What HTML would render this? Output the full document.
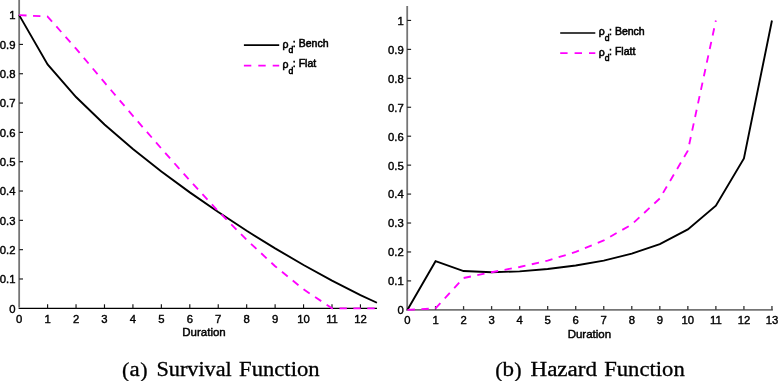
<!DOCTYPE html>
<html><head><meta charset="utf-8"><title>Survival and Hazard Functions</title>
<style>
html,body{margin:0;padding:0;background:#fff;}
body{width:778px;height:381px;overflow:hidden;}
svg{display:block}
.t{font-family:"Liberation Sans",Arial,Helvetica,sans-serif;font-size:11.3px;fill:#000;stroke:#000;stroke-width:0.4px;}
.al{font-family:"Liberation Sans",Arial,Helvetica,sans-serif;font-size:11.5px;fill:#000;stroke:#000;stroke-width:0.45px;}
.lg{font-family:"Liberation Sans",Arial,Helvetica,sans-serif;font-size:10.5px;fill:#000;stroke:#000;stroke-width:0.55px;}
.cap{font-family:"Liberation Serif","DejaVu Serif",serif;font-size:20px;fill:#000;stroke:#000;stroke-width:0.3px;}
</style></head><body>
<svg width="778" height="381" viewBox="0 0 778 381">
<rect width="778" height="381" fill="#fff"/>

<line x1="19.16" y1="0" x2="19.16" y2="307.6" stroke="#757575" stroke-width="1.8"/>
<line x1="18.6" y1="308.4" x2="377" y2="308.4" stroke="#000" stroke-width="1.2"/>
<text class="t" x="19.16" y="322.6" text-anchor="middle">0</text>
<line x1="47.60" y1="308.4" x2="47.60" y2="304.3" stroke="#111" stroke-width="1.15"/>
<text class="t" x="47.60" y="322.6" text-anchor="middle">1</text>
<line x1="76.04" y1="308.4" x2="76.04" y2="304.3" stroke="#111" stroke-width="1.15"/>
<text class="t" x="76.04" y="322.6" text-anchor="middle">2</text>
<line x1="104.48" y1="308.4" x2="104.48" y2="304.3" stroke="#111" stroke-width="1.15"/>
<text class="t" x="104.48" y="322.6" text-anchor="middle">3</text>
<line x1="132.92" y1="308.4" x2="132.92" y2="304.3" stroke="#111" stroke-width="1.15"/>
<text class="t" x="132.92" y="322.6" text-anchor="middle">4</text>
<line x1="161.36" y1="308.4" x2="161.36" y2="304.3" stroke="#111" stroke-width="1.15"/>
<text class="t" x="161.36" y="322.6" text-anchor="middle">5</text>
<line x1="189.80" y1="308.4" x2="189.80" y2="304.3" stroke="#111" stroke-width="1.15"/>
<text class="t" x="189.80" y="322.6" text-anchor="middle">6</text>
<line x1="218.24" y1="308.4" x2="218.24" y2="304.3" stroke="#111" stroke-width="1.15"/>
<text class="t" x="218.24" y="322.6" text-anchor="middle">7</text>
<line x1="246.68" y1="308.4" x2="246.68" y2="304.3" stroke="#111" stroke-width="1.15"/>
<text class="t" x="246.68" y="322.6" text-anchor="middle">8</text>
<line x1="275.12" y1="308.4" x2="275.12" y2="304.3" stroke="#111" stroke-width="1.15"/>
<text class="t" x="275.12" y="322.6" text-anchor="middle">9</text>
<line x1="303.56" y1="308.4" x2="303.56" y2="304.3" stroke="#111" stroke-width="1.15"/>
<text class="t" x="303.56" y="322.6" text-anchor="middle">10</text>
<line x1="332.00" y1="308.4" x2="332.00" y2="304.3" stroke="#111" stroke-width="1.15"/>
<text class="t" x="332.00" y="322.6" text-anchor="middle">11</text>
<line x1="360.44" y1="308.4" x2="360.44" y2="304.3" stroke="#111" stroke-width="1.15"/>
<text class="t" x="360.44" y="322.6" text-anchor="middle">12</text>
<text class="t" x="15.5" y="312.60" text-anchor="end">0</text>
<line x1="19.2" y1="278.98" x2="23" y2="278.98" stroke="#1a1a1a" stroke-width="1.15"/>
<text class="t" x="15.5" y="283.28" text-anchor="end">0.1</text>
<line x1="19.2" y1="249.66" x2="23" y2="249.66" stroke="#1a1a1a" stroke-width="1.15"/>
<text class="t" x="15.5" y="253.96" text-anchor="end">0.2</text>
<line x1="19.2" y1="220.34" x2="23" y2="220.34" stroke="#1a1a1a" stroke-width="1.15"/>
<text class="t" x="15.5" y="224.64" text-anchor="end">0.3</text>
<line x1="19.2" y1="191.02" x2="23" y2="191.02" stroke="#1a1a1a" stroke-width="1.15"/>
<text class="t" x="15.5" y="195.32" text-anchor="end">0.4</text>
<line x1="19.2" y1="161.70" x2="23" y2="161.70" stroke="#1a1a1a" stroke-width="1.15"/>
<text class="t" x="15.5" y="166.00" text-anchor="end">0.5</text>
<line x1="19.2" y1="132.38" x2="23" y2="132.38" stroke="#1a1a1a" stroke-width="1.15"/>
<text class="t" x="15.5" y="136.68" text-anchor="end">0.6</text>
<line x1="19.2" y1="103.06" x2="23" y2="103.06" stroke="#1a1a1a" stroke-width="1.15"/>
<text class="t" x="15.5" y="107.36" text-anchor="end">0.7</text>
<line x1="19.2" y1="73.74" x2="23" y2="73.74" stroke="#1a1a1a" stroke-width="1.15"/>
<text class="t" x="15.5" y="78.04" text-anchor="end">0.8</text>
<line x1="19.2" y1="44.42" x2="23" y2="44.42" stroke="#1a1a1a" stroke-width="1.15"/>
<text class="t" x="15.5" y="48.72" text-anchor="end">0.9</text>
<text class="t" x="15.5" y="19.40" text-anchor="end">1</text>
<text class="al" x="204" y="336.2" text-anchor="middle">Duration</text>
<line x1="407.2" y1="6.1" x2="407.2" y2="310.6" stroke="#757575" stroke-width="1.8"/>
<line x1="406.3" y1="309.8" x2="772.9" y2="309.8" stroke="#757575" stroke-width="1.8"/>
<text class="t" x="407.50" y="324.1" text-anchor="middle">0</text>
<line x1="435.54" y1="309.8" x2="435.54" y2="306.1" stroke="#333" stroke-width="1.3"/>
<text class="t" x="435.54" y="324.1" text-anchor="middle">1</text>
<line x1="463.57" y1="309.8" x2="463.57" y2="306.1" stroke="#333" stroke-width="1.3"/>
<text class="t" x="463.57" y="324.1" text-anchor="middle">2</text>
<line x1="491.61" y1="309.8" x2="491.61" y2="306.1" stroke="#333" stroke-width="1.3"/>
<text class="t" x="491.61" y="324.1" text-anchor="middle">3</text>
<line x1="519.64" y1="309.8" x2="519.64" y2="306.1" stroke="#333" stroke-width="1.3"/>
<text class="t" x="519.64" y="324.1" text-anchor="middle">4</text>
<line x1="547.67" y1="309.8" x2="547.67" y2="306.1" stroke="#333" stroke-width="1.3"/>
<text class="t" x="547.67" y="324.1" text-anchor="middle">5</text>
<line x1="575.71" y1="309.8" x2="575.71" y2="306.1" stroke="#333" stroke-width="1.3"/>
<text class="t" x="575.71" y="324.1" text-anchor="middle">6</text>
<line x1="603.75" y1="309.8" x2="603.75" y2="306.1" stroke="#333" stroke-width="1.3"/>
<text class="t" x="603.75" y="324.1" text-anchor="middle">7</text>
<line x1="631.78" y1="309.8" x2="631.78" y2="306.1" stroke="#333" stroke-width="1.3"/>
<text class="t" x="631.78" y="324.1" text-anchor="middle">8</text>
<line x1="659.82" y1="309.8" x2="659.82" y2="306.1" stroke="#333" stroke-width="1.3"/>
<text class="t" x="659.82" y="324.1" text-anchor="middle">9</text>
<line x1="687.85" y1="309.8" x2="687.85" y2="306.1" stroke="#333" stroke-width="1.3"/>
<text class="t" x="687.85" y="324.1" text-anchor="middle">10</text>
<line x1="715.88" y1="309.8" x2="715.88" y2="306.1" stroke="#333" stroke-width="1.3"/>
<text class="t" x="715.88" y="324.1" text-anchor="middle">11</text>
<line x1="743.92" y1="309.8" x2="743.92" y2="306.1" stroke="#333" stroke-width="1.3"/>
<text class="t" x="743.92" y="324.1" text-anchor="middle">12</text>
<line x1="771.95" y1="309.8" x2="771.95" y2="306.1" stroke="#333" stroke-width="1.3"/>
<text class="t" x="771.95" y="324.1" text-anchor="middle">13</text>
<text class="t" x="403.7" y="314.24" text-anchor="end">0</text>
<line x1="407.2" y1="280.90" x2="411.1" y2="280.90" stroke="#1a1a1a" stroke-width="1.15"/>
<text class="t" x="403.7" y="285.30" text-anchor="end">0.1</text>
<line x1="407.2" y1="251.96" x2="411.1" y2="251.96" stroke="#1a1a1a" stroke-width="1.15"/>
<text class="t" x="403.7" y="256.36" text-anchor="end">0.2</text>
<line x1="407.2" y1="223.02" x2="411.1" y2="223.02" stroke="#1a1a1a" stroke-width="1.15"/>
<text class="t" x="403.7" y="227.42" text-anchor="end">0.3</text>
<line x1="407.2" y1="194.08" x2="411.1" y2="194.08" stroke="#1a1a1a" stroke-width="1.15"/>
<text class="t" x="403.7" y="198.48" text-anchor="end">0.4</text>
<line x1="407.2" y1="165.14" x2="411.1" y2="165.14" stroke="#1a1a1a" stroke-width="1.15"/>
<text class="t" x="403.7" y="169.54" text-anchor="end">0.5</text>
<line x1="407.2" y1="136.20" x2="411.1" y2="136.20" stroke="#1a1a1a" stroke-width="1.15"/>
<text class="t" x="403.7" y="140.60" text-anchor="end">0.6</text>
<line x1="407.2" y1="107.26" x2="411.1" y2="107.26" stroke="#1a1a1a" stroke-width="1.15"/>
<text class="t" x="403.7" y="111.66" text-anchor="end">0.7</text>
<line x1="407.2" y1="78.32" x2="411.1" y2="78.32" stroke="#1a1a1a" stroke-width="1.15"/>
<text class="t" x="403.7" y="82.72" text-anchor="end">0.8</text>
<line x1="407.2" y1="49.38" x2="411.1" y2="49.38" stroke="#1a1a1a" stroke-width="1.15"/>
<text class="t" x="403.7" y="53.78" text-anchor="end">0.9</text>
<line x1="407.2" y1="20.44" x2="411.1" y2="20.44" stroke="#1a1a1a" stroke-width="1.15"/>
<text class="t" x="403.7" y="24.84" text-anchor="end">1</text>
<text class="al" x="589.4" y="337.7" text-anchor="middle">Duration</text>
<polyline points="19.16,15.10 47.60,64.36 76.04,97.05 104.48,124.51 132.92,148.95 161.36,171.42 189.80,192.36 218.24,212.07 246.68,230.74 275.12,248.35 303.56,265.01 332.00,280.60 360.44,295.09 376.94,302.75" fill="none" stroke="#000" stroke-width="1.9" stroke-linejoin="miter"/>
<polyline points="19.16,15.10 47.60,16.57 76.04,48.66 104.48,82.41 132.92,115.84 161.36,148.56 189.80,180.51 218.24,211.18 246.68,239.83 275.12,266.19 303.56,289.35 332.00,308.30 360.44,308.30 376.94,308.30" fill="none" stroke="#ff00ff" stroke-width="1.85" stroke-dasharray="7.4 6.5"/>
<polyline points="407.50,309.84 435.54,261.22 463.57,271.06 491.61,272.22 519.64,271.35 547.67,269.03 575.71,265.56 603.75,260.64 631.78,253.70 659.82,244.15 687.85,229.39 715.88,205.66 743.92,158.48 771.95,20.44" fill="none" stroke="#000" stroke-width="1.9" stroke-linejoin="miter"/>
<polyline points="407.50,309.84 435.54,308.39 463.57,278.01 491.61,272.22 519.64,267.01 547.67,260.64 575.71,251.96 603.75,240.38 631.78,224.47 659.82,198.42 687.85,150.67 715.88,20.44" fill="none" stroke="#ff00ff" stroke-width="1.85" stroke-dasharray="7.4 6.5"/>
<line x1="243.9" y1="45.1" x2="279.2" y2="45.1" stroke="#000" stroke-width="1.6"/>
<line x1="243.9" y1="65.6" x2="279.2" y2="65.6" stroke="#ff00ff" stroke-width="1.8" stroke-dasharray="7.4 7"/>
<text class="lg" x="282.5" y="46.8"><tspan dy="0.7">ρ</tspan><tspan font-size="8.6px" dy="5.6" dx="0">d</tspan><tspan dy="-6.3" dx="-0.4">: Bench</tspan></text>
<text class="lg" x="282.5" y="67.3"><tspan dy="0.7">ρ</tspan><tspan font-size="8.6px" dy="5.6" dx="0">d</tspan><tspan dy="-6.3" dx="-0.4">: Flat</tspan></text>
<line x1="560.2" y1="33" x2="595.3" y2="33" stroke="#000" stroke-width="1.6"/>
<line x1="560.2" y1="53.2" x2="595.3" y2="53.2" stroke="#ff00ff" stroke-width="1.8" stroke-dasharray="7.4 7"/>
<text class="lg" x="598.7" y="34.7"><tspan dy="0.7">ρ</tspan><tspan font-size="8.6px" dy="5.6" dx="0">d</tspan><tspan dy="-6.3" dx="-0.4">: Bench</tspan></text>
<text class="lg" x="598.7" y="54.9"><tspan dy="0.7">ρ</tspan><tspan font-size="8.6px" dy="5.6" dx="0">d</tspan><tspan dy="-6.3" dx="-0.4">: Flatt</tspan></text>
<text class="cap" y="375.7"><tspan x="122.0" dy="1" font-size="22px">(</tspan><tspan x="129.6" dy="-1" textLength="10.2" lengthAdjust="spacingAndGlyphs">a</tspan><tspan x="140.2" dy="1" font-size="22px">)</tspan> <tspan x="156.4" dy="-1" textLength="75.4" lengthAdjust="spacingAndGlyphs">Survival</tspan> <tspan x="239.1" textLength="80.5" lengthAdjust="spacingAndGlyphs">Function</tspan></text>
<text class="cap" y="375.7"><tspan x="495.3" dy="1" font-size="22px">(</tspan><tspan x="502.5" dy="-1" textLength="11.5" lengthAdjust="spacingAndGlyphs">b</tspan><tspan x="514.2" dy="1" font-size="22px">)</tspan> <tspan x="530.5" dy="-1" textLength="66.5" lengthAdjust="spacingAndGlyphs">Hazard</tspan> <tspan x="604.2" textLength="80.6" lengthAdjust="spacingAndGlyphs">Function</tspan></text>
</svg></body></html>
